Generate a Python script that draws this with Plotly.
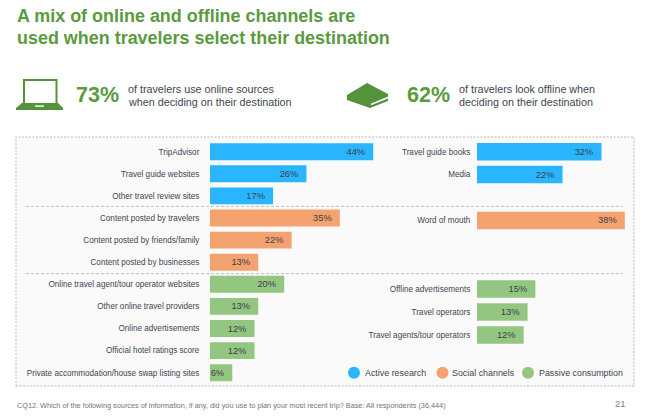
import plotly.graph_objects as go

W, H = 650, 417

# ---- data ----
left_active = ["TripAdvisor", "Travel guide websites", "Other travel review sites"]
left_active_v = [44, 26, 17]
left_social = ["Content posted by travelers", "Content posted by friends/family", "Content posted by businesses"]
left_social_v = [35, 22, 13]
left_passive = ["Online travel agent/tour operator websites", "Other online travel providers",
                "Online advertisements", "Official hotel ratings score",
                "Private accommodation/house swap listing sites"]
left_passive_v = [20, 13, 12, 12, 6]

right_active = ["Travel guide books", "Media"]
right_active_v = [32, 22]
right_social = ["Word of mouth"]
right_social_v = [38]
right_passive = ["Offline advertisements", "Travel operators", "Travel agents/tour operators"]
right_passive_v = [15, 13, 12]
right_order = right_active + ["\u00a0"] + right_social + ["\u00a0\u00a0", "\u00a0\u00a0\u00a0"] + right_passive

BLUE, ORANGE, GREEN = "#29B5FF", "#F4A26F", "#93C681"
DARK = "#404552"
LEFT_FONT = "Liberation Sans, Arial, sans-serif"
legend_names = ["Active research", "Social channels", "Passive consumption"]


def px(x):
    return x / W


def py(y):
    return 1 - y / H


def path(points, close=True):
    s = "M" + " L".join(f"{px(x):.5f},{py(y):.5f}" for x, y in points)
    return s + (" Z" if close else "")


fig = go.Figure()


def bars(cats, vals, color, xa, ya):
    fig.add_trace(go.Bar(
        y=cats, x=vals, orientation="h", xaxis=xa, yaxis=ya, showlegend=False,
        marker=dict(color=color, line=dict(width=0)),
        text=[f"{v}%\u00a0\u00a0" for v in vals], textposition="inside", insidetextanchor="end",
        textangle=0, constraintext="none",
        textfont=dict(color="#3c4048", size=9.3, family=LEFT_FONT), hoverinfo="skip",
    ))


bars(left_active, left_active_v, BLUE, "x", "y")
bars(left_social, left_social_v, ORANGE, "x", "y")
bars(left_passive, left_passive_v, GREEN, "x", "y")
bars(right_active, right_active_v, BLUE, "x2", "y2")
bars(right_social, right_social_v, ORANGE, "x2", "y2")
bars(right_passive, right_passive_v, GREEN, "x2", "y2")

tick = dict(size=8.15, color=DARK, family=LEFT_FONT)
left_order = left_active + left_social + left_passive

shapes = [
    dict(type="rect", xref="paper", yref="paper", x0=px(16), x1=px(634), y0=py(386), y1=py(137),
         line=dict(color="#cfcfcf", width=1.5, dash="2px,1.5px"), fillcolor="#fafafa", layer="below"),
    dict(type="line", xref="paper", yref="paper", x0=px(26), x1=px(623), y0=py(206.3), y1=py(206.3),
         line=dict(color="#bdbdbd", width=1, dash="3px,2px"), layer="below"),
    dict(type="line", xref="paper", yref="paper", x0=px(26), x1=px(623), y0=py(273.7), y1=py(273.7),
         line=dict(color="#bdbdbd", width=1, dash="3px,2px"), layer="below"),
    # laptop
    dict(type="path", xref="paper", yref="paper",
         path=path([(24, 104), (24, 80), (56.5, 80), (56.5, 104)], close=False),
         line=dict(color="#55923C", width=2), fillcolor="rgba(0,0,0,0)"),
    dict(type="path", xref="paper", yref="paper",
         path=path([(22, 103), (58, 103), (63, 108), (63, 110), (16, 110), (16, 108)]),
         line=dict(width=0), fillcolor="#55923C"),
    dict(type="rect", xref="paper", yref="paper", x0=px(35), x1=px(44), y0=py(106.8), y1=py(105.4),
         line=dict(width=0), fillcolor="#ffffff"),
    # book
    dict(type="path", xref="paper", yref="paper",
         path=path([(347, 95), (367, 83), (388, 94), (388, 101), (370, 108), (347, 100)]),
         line=dict(width=0), fillcolor="#55923C"),
    dict(type="path", xref="paper", yref="paper",
         path=path([(371, 104.5), (388, 97.5)], close=False),
         line=dict(color="#ffffff", width=1.5)),
]


def note(x, y, text, size, color, bold=False, anchor="left"):
    return dict(x=px(x), y=py(y), xref="paper", yref="paper", text=f"<b>{text}</b>" if bold else text,
                showarrow=False, xanchor=anchor, yanchor="middle", borderpad=0,
                font=dict(size=size, color=color, family=LEFT_FONT))


TG = "#5B9A3F"
annotations = [
    note(16, 16.5, "A mix of online and offline channels are", 17.95, TG, True),
    note(16, 37.5, "used when travelers select their destination", 17.95, TG, True),
    note(75, 95, "73%", 21.5, TG, True),
    note(126.5, 89, "of travelers use online sources", 10.75, DARK),
    note(126.5, 101.5, "when deciding on their destination", 10.75, DARK),
    note(406, 95, "62%", 21.5, TG, True),
    note(457.5, 89, "of travelers look offline when", 10.75, DARK),
    note(457.5, 102, "deciding on their destination", 10.75, DARK),
    note(16, 405, "CQ12. Which of the following sources of information, if any, did you use to plan your most recent trip? Base: All respondents (36,444)",
         7.3, "#6f7480"),
    note(627, 403, "21", 9.5, "#7f7f7f", anchor="right"),
]

for name, c, cx, tx in zip(legend_names, [BLUE, ORANGE, GREEN], [354, 442.5, 528], [364, 451, 538]):
    shapes.append(dict(type="circle", xref="paper", yref="paper", x0=px(cx - 6), x1=px(cx + 6),
                       y0=py(372.7 + 6), y1=py(372.7 - 6), line=dict(width=0), fillcolor=c))
    annotations.append(note(tx, 372.7, name, 8.9, DARK))

fig.update_layout(
    width=W, height=H, autosize=False, margin=dict(l=0, r=0, t=0, b=0, autoexpand=False),
    paper_bgcolor="white", plot_bgcolor="rgba(0,0,0,0)", showlegend=False,
    barmode="overlay", bargap=0.235, shapes=shapes, annotations=annotations,
    font=dict(family=LEFT_FONT),
    xaxis=dict(domain=[px(210), px(380)], range=[0, 170 / 3.71], visible=False, fixedrange=True),
    yaxis=dict(domain=[py(383.75), py(140.65)], type="category", categoryorder="array", automargin=False,
               categoryarray=left_order, range=[10.5, -0.5], anchor="x", showgrid=False, showline=False,
               ticks="outside", ticklen=8, tickcolor="rgba(0,0,0,0)", tickfont=tick, zeroline=False),
    xaxis2=dict(domain=[px(477), px(630)], range=[0, 153 / 3.89], visible=False, fixedrange=True),
    yaxis2=dict(domain=[py(346.35), py(140.25)], type="category", categoryorder="array", automargin=False,
                categoryarray=right_order, range=[8.5, -0.5], anchor="x2", showgrid=False, showline=False,
                ticks="outside", ticklen=4, tickcolor="rgba(0,0,0,0)", tickfont=tick, zeroline=False),
)

fig.write_html("out.html", config={"displayModeBar": False},
               post_script="document.body.style.margin='0';document.body.style.overflow='hidden';")
